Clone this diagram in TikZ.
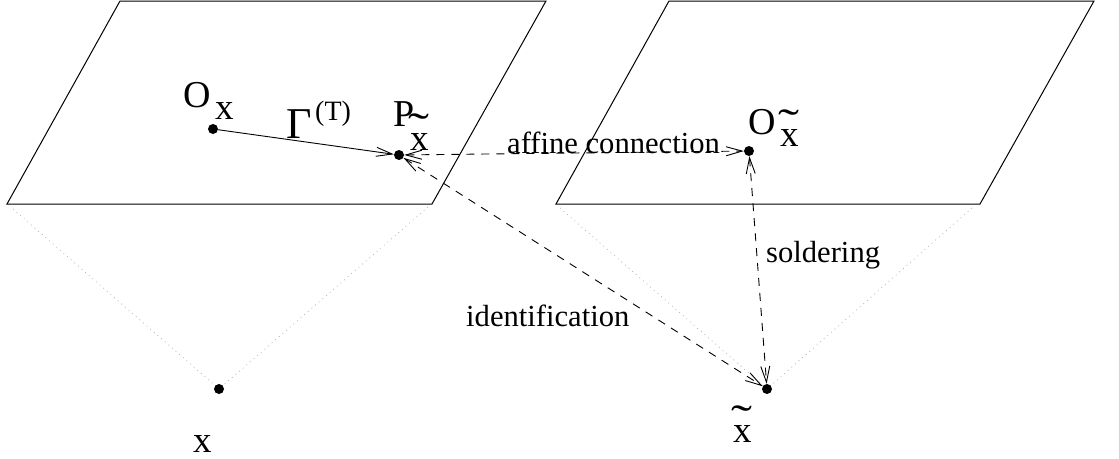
\documentclass[tikz,border=0pt]{standalone}
\usepackage{fontspec}
\setmainfont{Liberation Serif}
\usetikzlibrary{arrows.meta}
\newcommand{\xtil}{{\ooalign{x\cr\hidewidth\raisebox{0.2em}{\scalebox{1.7}[1.15]{˜}}\hidewidth\cr}}}
\begin{document}
\begin{tikzpicture}[x=1pt,y=-1pt,
  plane/.style={draw=black,line width=1pt,line join=miter},
  dotnode/.style={circle,fill=black,inner sep=0pt,minimum size=10pt},
  guide/.style={draw=black!30,line width=0.8pt,dash pattern=on 0.8pt off 4pt},
  barb/.style={line width=0.9pt,arrows={Straight Barb[length=16pt,width=9pt]-Straight Barb[length=16pt,width=9pt]}},
  barbone/.style={line width=0.9pt,-{Straight Barb[length=16pt,width=9pt]}},
  dashline/.style={dash pattern=on 8pt off 7pt},
  lbl/.style={anchor=base west,inner sep=0pt,font=\fontsize{38}{40}\selectfont},
  sublbl/.style={anchor=base west,inner sep=0pt,font=\fontsize{37}{40}\selectfont},
  txt/.style={anchor=base west,inner sep=0pt,font=\fontsize{30.6}{34}\selectfont}]
\useasboundingbox (0,0) rectangle (1119,458);
% planes
\draw[plane] (7,204) -- (120,1) -- (546,1) -- (432,204) -- cycle;
\draw[plane] (556,204) -- (669,1) -- (1094,1) -- (980,204) -- cycle;
% dots
\node[dotnode] (ox) at (213,129) {};
\node[dotnode] (p) at (399,155) {};
\node[dotnode] (ot) at (749,151) {};
\node[dotnode] (xb) at (219,389) {};
\node[dotnode] (xt) at (767,389) {};
% guide lines
\coordinate (la) at (13,209);
\coordinate (lb) at (428,207);
\coordinate (ra) at (560,208);
\coordinate (rb) at (972,208);
\draw[guide] (la) -- (xb);
\draw[guide] (lb) -- (xb);
\draw[guide] (ra) -- (xt);
\draw[guide] (rb) -- (xt);
% connectors
\draw[barbone] (ox) -- (p);
\draw[barb,dashline] (p) -- (ot);
\draw[barb,dashline] (p) -- (xt);
\draw[barb,dashline] (ot) -- (xt);
% labels
\node[lbl] (oxl) at (183,107) {O};
\node[sublbl] (oxs) at (215,119) {x};
\node[anchor=base west,inner sep=0pt,font=\fontsize{44}{46}\selectfont] (gam) at (286,138) {Γ};
\node[anchor=base west,inner sep=0pt,font=\fontsize{28}{30}\selectfont] (gams) at (315,120) {(T)};
\node[lbl] (pl) at (393,126) {P};
\node[sublbl] (ps) at (410,150) {\xtil};
\node[lbl] (otl) at (748,134) {O};
\node[sublbl] (ots) at (780,146) {\xtil};
\node[sublbl] (xbl) at (193,452) {x};
\node[sublbl] (xtl) at (733,442) {\xtil};
\node[txt] (aff) at (507,153) {affine connection};
\node[txt] (sol) at (766,262) {soldering};
\node[txt] (idf) at (466,326) {identification};
\end{tikzpicture}
\end{document}
